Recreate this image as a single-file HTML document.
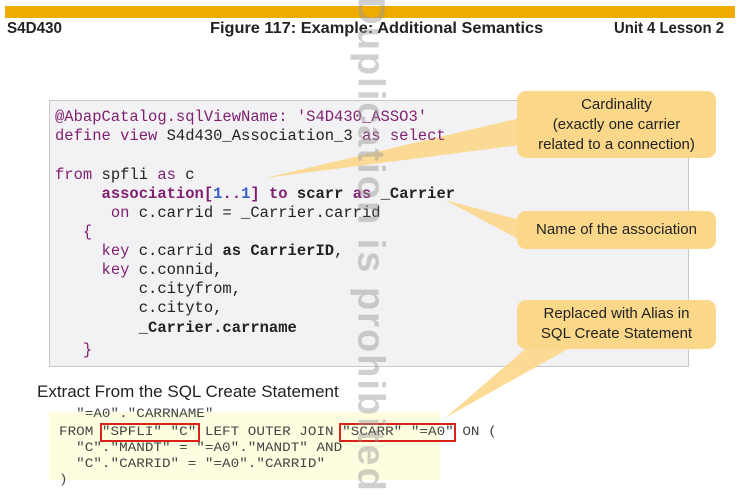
<!DOCTYPE html>
<html><head><meta charset="utf-8"><style>
body{margin:0;width:743px;height:499px;background:#fff;position:relative;overflow:hidden;font-family:"Liberation Sans",sans-serif}
.abs{position:absolute}
.bar{left:5px;top:6px;width:730px;height:12px;background:#f0ab00}
.hd{top:20px;font-size:16px;font-weight:bold;color:#222;transform:scaleX(0.95);transform-origin:left}
.code{left:49px;top:100px;width:640px;height:267px;background:#f2f1f3;border:1px solid #c8c8c8;box-sizing:border-box}
.cl{font-family:"Liberation Mono",monospace;font-size:15.5px;color:#222;white-space:pre;left:55px;line-height:19px}
.k{color:#7f1f6f}.n{color:#3a5fcd}.b{font-weight:bold}
.co{background:#fbd78a;border-radius:9px;text-align:center;font-size:15px;color:#222;line-height:20px}
.sql{left:49px;top:412px;width:391px;height:68px;background:#fffde0}
.sl{font-family:"Liberation Mono",monospace;font-size:13px;color:#444;white-space:pre;left:59px;line-height:16px;transform:scaleX(1.1);transform-origin:left}
.rb{border:2px solid #d8231b;box-sizing:border-box}
</style></head><body>
<div class="abs bar"></div>
<div class="abs hd" style="left:7px">S4D430</div>
<div class="abs hd" style="left:210px;transform:scaleX(1.02)">Figure 117: Example: Additional Semantics</div>
<div class="abs hd" style="left:614px;transform:scaleX(0.93)">Unit 4 Lesson 2</div>
<div class="abs code"></div>
<svg class="abs" style="left:0;top:0" width="743" height="499">
<polygon points="265,178 520,118 520,145" fill="#fbd78a" opacity="0.9"/>
<polygon points="445,200 520,220 520,240" fill="#fbd78a" opacity="0.9"/>
<polygon points="445,418 530,345 575,345" fill="#fbd78a" opacity="0.9"/>
</svg>
<div class="abs cl" style="top:108px"><span class="k">@AbapCatalog.sqlViewName: </span><span class="k">'S4D430_ASSO3'</span></div>
<div class="abs cl" style="top:127px"><span class="k">define view </span>S4d430_Association_3 <span class="k">as select</span></div>
<div class="abs cl" style="top:166px"><span class="k">from </span>spfli <span class="k">as</span> c</div>
<div class="abs cl b" style="top:185px">     <span class="k">association[</span><span class="n">1</span><span class="k">..</span><span class="n">1</span><span class="k">] to</span> scarr <span class="k">as</span> _Carrier</div>
<div class="abs cl" style="top:204px">      <span class="k">on</span> c.carrid = _Carrier.carrid</div>
<div class="abs cl" style="top:223px">   <span class="k">{</span></div>
<div class="abs cl" style="top:242px">     <span class="k">key</span> c.carrid <b>as CarrierID</b>,</div>
<div class="abs cl" style="top:261px">     <span class="k">key</span> c.connid,</div>
<div class="abs cl" style="top:280px">         c.cityfrom,</div>
<div class="abs cl" style="top:299px">         c.cityto,</div>
<div class="abs cl b" style="top:319px">         _Carrier.carrname</div>
<div class="abs cl" style="top:341px">   <span class="k">}</span></div>
<div class="abs co" style="left:517px;top:91px;width:199px;height:67px;padding-top:4px;box-sizing:border-box">Cardinality<br>(exactly one carrier<br>related to a connection)</div>
<div class="abs co" style="left:517px;top:211px;width:199px;height:38px;line-height:38px">Name of the association</div>
<div class="abs co" style="left:517px;top:300px;width:199px;height:49px;padding-top:4px;box-sizing:border-box">Replaced with Alias in<br>SQL Create Statement</div>
<div class="abs" style="left:37px;top:382px;font-size:17px;color:#222">Extract From the SQL Create Statement</div>
<div class="abs sql"></div>
<div class="abs sl" style="top:406px">  "=A0"."CARRNAME"</div>
<div class="abs sl" style="top:424px">FROM "SPFLI" "C" LEFT OUTER JOIN "SCARR" "=A0" ON (</div>
<div class="abs sl" style="top:440px">  "C"."MANDT" = "=A0"."MANDT" AND</div>
<div class="abs sl" style="top:456px">  "C"."CARRID" = "=A0"."CARRID"</div>
<div class="abs sl" style="top:472px">)</div>
<div class="abs rb" style="left:100px;top:423px;width:100px;height:19px"></div>
<div class="abs rb" style="left:339px;top:423px;width:117px;height:19px"></div>
<div class="abs" style="left:370px;top:245px;transform:translate(-50%,-50%) rotate(90deg);font-size:38px;font-weight:bold;color:rgba(150,150,150,0.45);white-space:nowrap;letter-spacing:2px">Duplication is prohibited</div>
</body></html>
